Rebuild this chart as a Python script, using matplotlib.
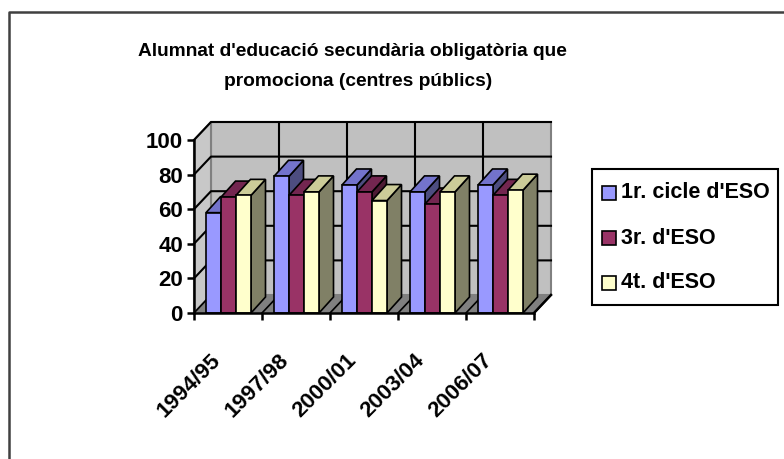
"""
Excel style 3D column chart of ESO pupils who pass the year (public schools)

the 3D look is faked: every bar is a front face plus a top and a side face,
all drawn in data coordinates so the axes scales still place everything
"""

import matplotlib.pyplot as plt
from matplotlib.patches import Polygon, Rectangle
from matplotlib.lines import Line2D

years = ["1994/95", "1997/98", "2000/01", "2003/04", "2006/07"]
series_names = ["1r. cicle d'ESO", "3r. d'ESO", "4t. d'ESO"]
cicle1 = [58, 79, 74, 70, 74]
eso3 = [67, 68, 70, 63, 68]
eso4 = [68, 70, 65, 70, 71]
y_ticks = [0, 20, 40, 60, 80, 100]

# front, top, side colour for each series
front_colors = ["#9999FF", "#993366", "#FFFFCC"]
top_colors = ["#7373CC", "#732650", "#CCCC99"]
side_colors = ["#4D4D80", "#4D1A33", "#808066"]

# pixel sizes, turned into data units
px_cat = 68.0   # pixels per category
px_unit = 1.73  # pixels per value unit
wall_dx, wall_dy = 17 / px_cat, 18 / px_unit
bar_dx, bar_dy = 14.5 / px_cat, 16 / px_unit
bar_off, bar_w = 12 / px_cat, 15 / px_cat

W, H = 784, 459
fig = plt.figure(figsize=(W / 100, H / 100), dpi=100)
plt.rcParams["font.family"] = ["Liberation Sans", "DejaVu Sans"]


def fx(x):
    return x / W


def fy(y):
    return 1 - y / H


n = len(years)
ax = fig.add_axes([fx(194), fy(313), (n + wall_dx) * px_cat / W, (100 + wall_dy) * px_unit / H])
ax.set_xlim(0, n + wall_dx)
ax.set_ylim(0, 100 + wall_dy)
ax.patch.set_visible(False)

# walls and floor
back = Polygon([(wall_dx, wall_dy), (n + wall_dx, wall_dy), (n + wall_dx, 100 + wall_dy),
                (wall_dx, 100 + wall_dy)], facecolor="#C0C0C0", edgecolor="#808080", lw=1.5,
               clip_on=False, zorder=1)
left = Polygon([(0, 0), (wall_dx, wall_dy), (wall_dx, 100 + wall_dy), (0, 100)],
               facecolor="#C8C8C8", edgecolor="#808080", lw=1.5, clip_on=False, zorder=1)
floor = Polygon([(0, 0), (n, 0), (n + wall_dx, wall_dy), (wall_dx, wall_dy)],
                facecolor="#808080", edgecolor="#808080", lw=1, clip_on=False, zorder=1)
for p in (back, left, floor):
    ax.add_patch(p)

# gridlines on the back and left walls
for v in y_ticks[1:]:
    ax.plot([0, wall_dx, n + wall_dx], [v, v + wall_dy, v + wall_dy], color="black", lw=1.5,
            zorder=2, clip_on=False)
for k in range(1, n):
    ax.plot([k + wall_dx, k + wall_dx], [wall_dy, 100 + wall_dy], color="black", lw=1.5, zorder=2)
for k in range(0, n + 1):
    ax.plot([k, k + wall_dx], [0, wall_dy], color="black", lw=1.2, zorder=2)

# the bars, left to right so the next bar hides the side of the one before
all_values = [cicle1, eso3, eso4]
for i in range(n):
    for s, vals in enumerate(all_values):
        x0 = i + bar_off + s * bar_w
        x1 = x0 + bar_w
        v = vals[i]
        ax.add_patch(Polygon([(x1, 0), (x1 + bar_dx, bar_dy), (x1 + bar_dx, v + bar_dy), (x1, v)],
                             facecolor=side_colors[s], edgecolor="black", lw=1.2, zorder=3))
        ax.add_patch(Polygon([(x0, v), (x1, v), (x1 + bar_dx, v + bar_dy), (x0 + bar_dx, v + bar_dy)],
                             facecolor=top_colors[s], edgecolor="black", lw=1.2, zorder=3))
        ax.add_patch(Rectangle((x0, 0), bar_w, v, facecolor=front_colors[s], edgecolor="black",
                               lw=1.2, zorder=3))

# axes lines and ticks
for side in ("top", "right"):
    ax.spines[side].set_visible(False)
ax.spines["left"].set_bounds(0, 100)
ax.spines["bottom"].set_bounds(0, n)
for side in ("left", "bottom"):
    ax.spines[side].set_linewidth(1.8)
    ax.spines[side].set_zorder(5)
ax.set_yticks(y_ticks)
ax.set_yticklabels([str(v) for v in y_ticks], fontsize=16, fontweight="bold")
ax.tick_params(axis="y", direction="out", length=5, width=1.8, pad=3)
ax.set_xticks(range(n + 1))
ax.set_xticklabels([])
ax.tick_params(axis="x", direction="out", length=5, width=1.8)
ax.plot([n, n + wall_dx], [0, wall_dy], color="black", lw=1.8, zorder=5, clip_on=False)

# category labels, slanted
for i, name in enumerate(years):
    ax.text(i + 0.5 - 18 / px_cat, -37 / px_unit, name, rotation=45, ha="right", va="top",
            rotation_mode="anchor", fontsize=16, fontweight="bold", clip_on=False)

# title in two lines
fig.text(fx(352), fy(52), "Alumnat d'educació secundària obligatòria que", ha="center",
         va="center", fontsize=13.8, fontweight="bold")
fig.text(fx(358), fy(82), "promociona (centres públics)", ha="center", va="center",
         fontsize=13.8, fontweight="bold")

# legend drawn by hand so it sits where the original one is
fig.patches.append(Rectangle((fx(592), fy(305)), (778 - 592) / W, (305 - 169) / H,
                             transform=fig.transFigure, facecolor="white", edgecolor="black",
                             lw=1.5))
for s, (name, yc) in enumerate(zip(series_names, [193, 238, 283])):
    fig.patches.append(Rectangle((fx(602), fy(yc + 7)), 14 / W, 14 / H, transform=fig.transFigure,
                                 facecolor=front_colors[s], edgecolor="black", lw=1.2))
    fig.text(fx(621), fy(yc), name, ha="left", va="center", fontsize=15.5, fontweight="bold")

# outer chart border, the right and bottom edges are off the picture
fig.lines.append(Line2D([fx(9), fx(9), fx(790)], [fy(470), fy(12), fy(12)],
                        transform=fig.transFigure, color="#404040", lw=1.8))

fig.savefig("out.png", dpi=100)
